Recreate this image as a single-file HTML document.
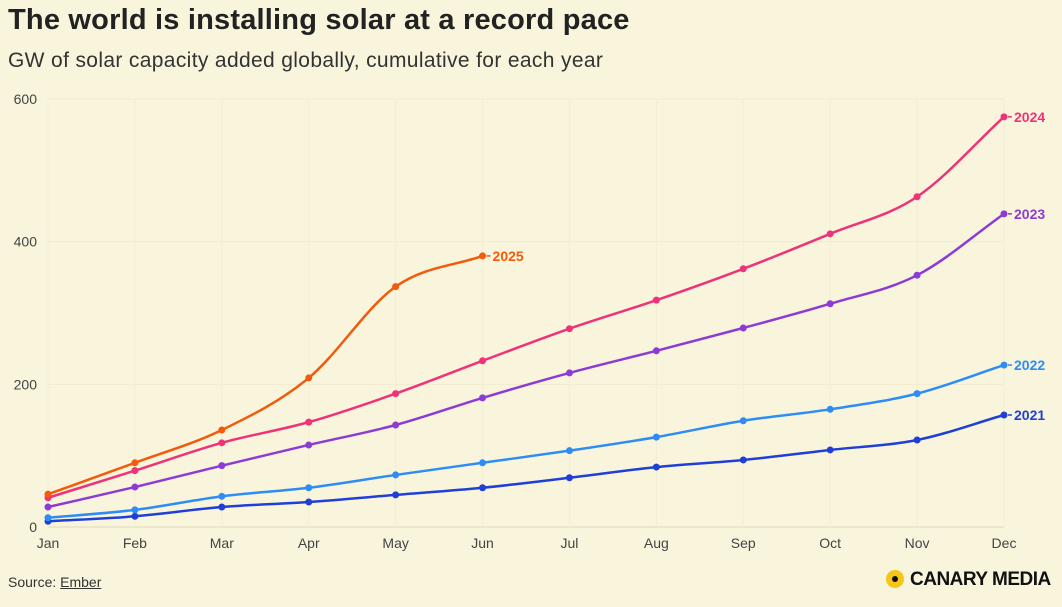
<!DOCTYPE html>
<html><head><meta charset="utf-8">
<style>
body{margin:0;background:#f9f5dc;font-family:"Liberation Sans",sans-serif;}
#wrap{position:relative;width:1062px;height:607px;overflow:hidden;}
h1{position:absolute;left:8px;top:4px;margin:0;font-size:29px;font-weight:bold;color:#222;letter-spacing:0.2px;}
h2{position:absolute;left:8px;top:49px;margin:0;font-size:21px;font-weight:normal;color:#333;letter-spacing:0.35px;}
#src{position:absolute;left:8px;top:574px;font-size:14px;color:#333;}
#src u{text-decoration:underline;}
#logo{position:absolute;left:886px;top:569px;font-size:19px;font-weight:bold;color:#111;letter-spacing:-0.5px;}
#logo span{display:inline-block;width:18px;height:18px;border-radius:50%;background:#f5c518;vertical-align:-3px;margin-right:6px;position:relative;}
#logo span:after{content:"";position:absolute;left:6px;top:6px;width:6px;height:6px;border-radius:50%;background:#111;}
svg{position:absolute;left:0;top:0;}
</style></head><body>
<div id="wrap">
<h1>The world is installing solar at a record pace</h1>
<h2>GW of solar capacity added globally, cumulative for each year</h2>
<svg id="chart" width="1062" height="607"></svg>
<div id="src">Source: <u>Ember</u></div>
<div id="logo"><span></span>CANARY MEDIA</div>
</div>
<script>
const months=["Jan","Feb","Mar","Apr","May","Jun","Jul","Aug","Sep","Oct","Nov","Dec"];
const yTicks=[0,200,400,600];
const seriesNames=["2021","2022","2023","2024","2025"];
const v2021=[8,15,28,35,45,55,69,84,94,108,122,157];
const v2022=[13,24,43,55,73,90,107,126,149,165,187,227];
const v2023=[28,56,86,115,143,181,216,247,279,313,353,439];
const v2024=[41,79,118,147,187,233,278,318,362,411,463,575];
const v2025=[46,90,136,209,337,380];
const colors={"2021":"#1f3fd6","2022":"#2e8cf5","2023":"#8c3bd6","2024":"#ee3378","2025":"#f25a0c"};
const ns="http://www.w3.org/2000/svg";
const svg=document.getElementById('chart');
const x0=48,x1=1004,y0=527,y1=99;
const xs=i=>x0+(x1-x0)*i/(months.length-1);
const ys=v=>y0-(y0-y1)*v/600;
function mk(t,a){const e=document.createElementNS(ns,t);for(const k in a)e.setAttribute(k,a[k]);svg.appendChild(e);return e;}
yTicks.forEach(t=>{
 const l=mk('line',{x1:x0,x2:x1,y1:ys(t),y2:ys(t),stroke:t===0?'#ddd8bd':'#f0ebce','stroke-width':1});
 
 
 const tx=mk('text',{x:37,y:ys(t)+5,'text-anchor':'end','font-size':14,fill:'#444','font-family':'Liberation Sans, sans-serif'});
 tx.textContent=t;
 
 
});
months.forEach((m,i)=>{
 const l=mk('line',{x1:xs(i),x2:xs(i),y1:y1,y2:y0,stroke:'#f3eed3','stroke-width':1});
 
 
 const tx=mk('text',{x:xs(i),y:548,'text-anchor':'middle','font-size':14,fill:'#444','font-family':'Liberation Sans, sans-serif'});
 tx.textContent=m;
 
 
});
function monotone(pts){
 const n=pts.length;if(n<2)return '';
 const d=[],m=[];
 for(let i=0;i<n-1;i++)d.push((pts[i+1][1]-pts[i][1])/(pts[i+1][0]-pts[i][0]));
 m[0]=d[0];m[n-1]=d[n-2];
 for(let i=1;i<n-1;i++){m[i]=d[i-1]*d[i]<=0?0:(d[i-1]+d[i])/2;}
 for(let i=0;i<n-1;i++){if(d[i]===0){m[i]=m[i+1]=0;continue;}const a=m[i]/d[i],b=m[i+1]/d[i],s=a*a+b*b;if(s>9){const t=3/Math.sqrt(s);m[i]=t*a*d[i];m[i+1]=t*b*d[i];}}
 let p='M'+pts[0][0]+','+pts[0][1];
 for(let i=0;i<n-1;i++){const h=(pts[i+1][0]-pts[i][0])/3;
  p+=' C'+(pts[i][0]+h)+','+(pts[i][1]+m[i]*h)+' '+(pts[i+1][0]-h)+','+(pts[i+1][1]-m[i+1]*h)+' '+pts[i+1][0]+','+pts[i+1][1];}
 return p;
}
const data={"2021":v2021,"2022":v2022,"2023":v2023,"2024":v2024,"2025":v2025};
seriesNames.forEach(name=>{
 const vals=data[name],c=colors[name];
 const pts=vals.map((v,i)=>[xs(i),ys(v)]);
 const p=mk('path',{d:monotone(pts),fill:'none',stroke:c,'stroke-width':2.5});
 
 
 pts.forEach(pt=>{
  const dot=mk('circle',{cx:pt[0],cy:pt[1],r:3.5,fill:c});
  
  
 });
 const last=pts[pts.length-1];
 const dl=mk('line',{x1:last[0]+4,x2:last[0]+8,y1:last[1],y2:last[1],stroke:c,'stroke-width':1.5});
 
 
 const t=mk('text',{x:last[0]+10,y:last[1]+5,'font-size':14,'font-weight':'bold',fill:c,'font-family':'Liberation Sans, sans-serif'});
 t.textContent=name;
 
 
});
</script>
</body></html>
